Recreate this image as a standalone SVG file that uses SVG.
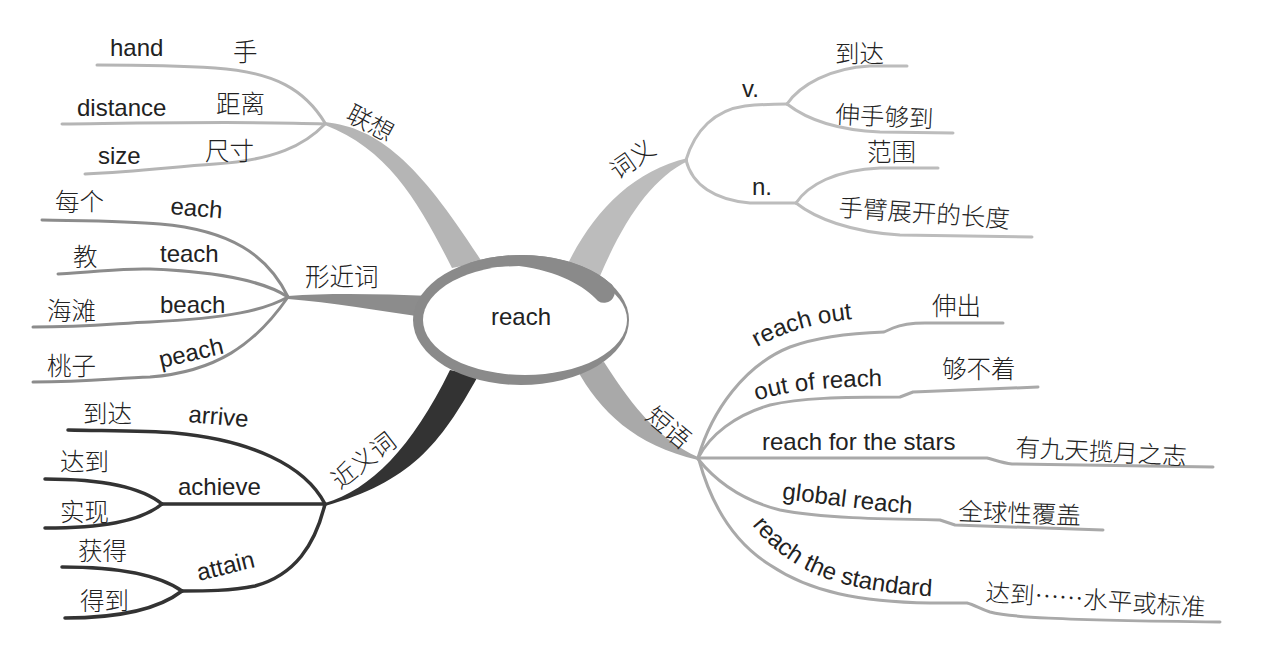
<svg xmlns="http://www.w3.org/2000/svg" width="1280" height="648" viewBox="0 0 1280 648">
<style>
.en{font-family:"Liberation Sans",Arial,sans-serif;font-size:24px;fill:#222}
.zh{font-family:"Noto Sans CJK SC","Noto Sans CJK TC",sans-serif;font-size:24.5px;font-weight:300;fill:#222}
.ln{fill:none;stroke-width:3;stroke-linecap:round;stroke-linejoin:round}
.ga{stroke:#b5b5b5}
.gb{stroke:#8c8c8c}
.gc{stroke:#333;stroke-width:3.5}
.gd{stroke:#bcbcbc}
.ge{stroke:#a9a9a9}
</style>
<defs>
<path id="p-out" d="M757,347 Q802,322 866,318"/>
<path id="p-oor" d="M757,401 Q792,387 890,386"/>
<path id="p-glob" d="M782,499 C812,502 860,510 920,514"/>
<path id="p-std" d="M752,525 C775,553 800,571 840,583 C875,592 910,596 952,597"/>
</defs>
<rect width="1280" height="648" fill="#fff"/>

<g id="connectors">
  <!-- main tapered branches -->
  <path d="M325,122 C380,128 420,165 482,262 L452,268 C420,205 390,150 325,125 Z" fill="#b5b5b5"/>
  <path d="M288,296 C330,293 380,294 432,296 L430,318 C380,311 330,302 288,299 Z" fill="#8c8c8c"/>
  <path d="M325,503 C370,490 412,448 450,370 L478,376 C440,445 410,482 325,506 Z" fill="#333"/>
  <path d="M562,276 C588,218 628,172 688,158 L688,161 C652,178 624,220 600,276 Z" fill="#bcbcbc"/>
  <path d="M576,368 C600,412 635,445 698,460 L698,457 C660,440 635,410 604,362 Z" fill="#a9a9a9"/>

  <!-- 联想 -->
  <path class="ln ga" d="M97,65 C150,65 185,66 215,68 C275,72 305,90 325,123"/>
  <path class="ln ga" d="M62,124 C150,123 250,121 325,124"/>
  <path class="ln ga" d="M85,174 C140,172 170,167 215,164 C275,160 305,145 325,124"/>
  <!-- 形近词 -->
  <path class="ln gb" d="M42,220 C100,221 130,221 160,224 C230,230 268,255 288,297"/>
  <path class="ln gb" d="M58,274 C100,272 120,268 150,269 C230,272 270,285 288,297"/>
  <path class="ln gb" d="M33,327 C90,327 120,323 150,322 C230,318 265,310 288,297"/>
  <path class="ln gb" d="M33,382 C90,382 115,378 150,377 C215,372 255,345 288,297"/>
  <!-- 近义词 -->
  <path class="ln gc" d="M68,430 C120,431 150,431 175,433 C250,440 305,465 325,504"/>
  <path class="ln gc" d="M162,504 L325,504"/>
  <path class="ln gc" d="M45,479 C100,479 140,486 162,504"/>
  <path class="ln gc" d="M45,528 C100,528 140,522 162,504"/>
  <path class="ln gc" d="M325,504 C315,545 295,575 255,586 C230,591 205,591 182,591"/>
  <path class="ln gc" d="M62,567 C110,567 155,572 182,591"/>
  <path class="ln gc" d="M65,618 C110,618 155,612 182,591"/>
  <!-- 词义 -->
  <path class="ln gd" d="M686,160 C695,130 715,110 745,106 C765,104 775,104 787,104"/>
  <path class="ln gd" d="M787,104 C800,85 830,68 870,66 L907,66"/>
  <path class="ln gd" d="M787,104 C805,118 835,130 880,132 L953,133"/>
  <path class="ln gd" d="M686,160 C692,185 715,200 750,203 L796,203"/>
  <path class="ln gd" d="M796,203 C808,185 835,170 880,168 L938,168"/>
  <path class="ln gd" d="M796,203 C815,218 850,232 900,235 L1032,237"/>
  <!-- 短语 -->
  <path class="ln ge" d="M698,458 C712,410 745,365 790,347 C820,336 855,333 884,332 L893,328 C900,325 910,323 925,323 L1003,323"/>
  <path class="ln ge" d="M698,458 C710,435 735,415 770,405 C800,398 840,397 900,397 L913,392 L1038,387"/>
  <path class="ln ge" d="M698,458 L987,458 C995,460 1002,463 1012,464 L1213,467"/>
  <path class="ln ge" d="M698,459 C715,480 740,500 780,510 C820,518 880,519 940,520 L955,525 L1103,530"/>
  <path class="ln ge" d="M699,460 C710,500 730,540 770,565 C810,592 860,602 930,603 L967,603 C975,605 980,609 990,612 C1010,617 1050,620 1220,622"/>
</g>

<g id="center">
  <ellipse cx="521" cy="320" rx="108" ry="65" fill="#8a8a8a"/>
  <ellipse cx="525" cy="320" rx="102" ry="55" fill="#fff"/>
  <path d="M470,262.7 A108,65 0 0 1 610,283 A10,10 0 0 1 598,301 C585,286 558,271 519,266 L470,268 Z" fill="#8a8a8a"/>
  <text class="en" x="521" y="325" text-anchor="middle">reach</text>
</g>

<g id="lianxiang">
  <text class="zh" transform="translate(370,124) rotate(28)" text-anchor="middle" y="8">联想</text>
  <text class="en" x="110" y="56">hand</text>
  <text class="zh" x="233" y="61">手</text>
  <text class="en" x="77" y="116">distance</text>
  <text class="zh" x="216" y="113">距离</text>
  <text class="en" x="98" y="164">size</text>
  <text class="zh" x="205" y="160">尺寸</text>
</g>

<g id="xingjinci">
  <text class="zh" x="305" y="286">形近词</text>
  <text class="zh" x="55" y="211">每个</text>
  <text class="en" transform="translate(170,214) rotate(5)">each</text>
  <text class="zh" x="73" y="266">教</text>
  <text class="en" x="160" y="262">teach</text>
  <text class="zh" x="47" y="320">海滩</text>
  <text class="en" x="160" y="313">beach</text>
  <text class="zh" x="47" y="375">桃子</text>
  <text class="en" transform="translate(161,368) rotate(-13)">peach</text>
</g>

<g id="jinyici">
  <text class="zh" transform="translate(364,461) rotate(-38)" text-anchor="middle" y="8">近义词</text>
  <text class="zh" x="83" y="423">到达</text>
  <text class="en" transform="translate(188,422) rotate(5)">arrive</text>
  <text class="zh" x="60" y="471">达到</text>
  <text class="en" x="178" y="495">achieve</text>
  <text class="zh" x="60" y="521">实现</text>
  <text class="zh" x="78" y="560">获得</text>
  <text class="en" transform="translate(199,581) rotate(-14)">attain</text>
  <text class="zh" x="80" y="610">得到</text>
</g>

<g id="ciyi">
  <text class="zh" transform="translate(633,160) rotate(-35)" text-anchor="middle" y="8">词义</text>
  <text class="en" x="742" y="97">v.</text>
  <text class="zh" x="835" y="63">到达</text>
  <text class="zh" transform="translate(835,123) rotate(3)">伸手够到</text>
  <text class="en" x="752" y="195">n.</text>
  <text class="zh" x="867" y="161">范围</text>
  <text class="zh" transform="translate(838,216) rotate(4)">手臂展开的长度</text>
</g>

<g id="duanyu">
  <text class="zh" transform="translate(668,428) rotate(40)" text-anchor="middle" y="8">短语</text>
  <text class="en"><textPath href="#p-out">reach out</textPath></text>
  <text class="zh" x="932" y="315">伸出</text>
  <text class="en"><textPath href="#p-oor">out of reach</textPath></text>
  <text class="zh" x="942" y="378">够不着</text>
  <text class="en" x="762" y="450">reach for the stars</text>
  <text class="zh" transform="translate(1015,456) rotate(3)">有九天揽月之志</text>
  <text class="en"><textPath href="#p-glob">global reach</textPath></text>
  <text class="zh" transform="translate(958,520) rotate(2)">全球性覆盖</text>
  <text class="en"><textPath href="#p-std">reach the standard</textPath></text>
  <text class="zh" transform="translate(985,601) rotate(4)">达到……水平或标准</text>
</g>
</svg>
